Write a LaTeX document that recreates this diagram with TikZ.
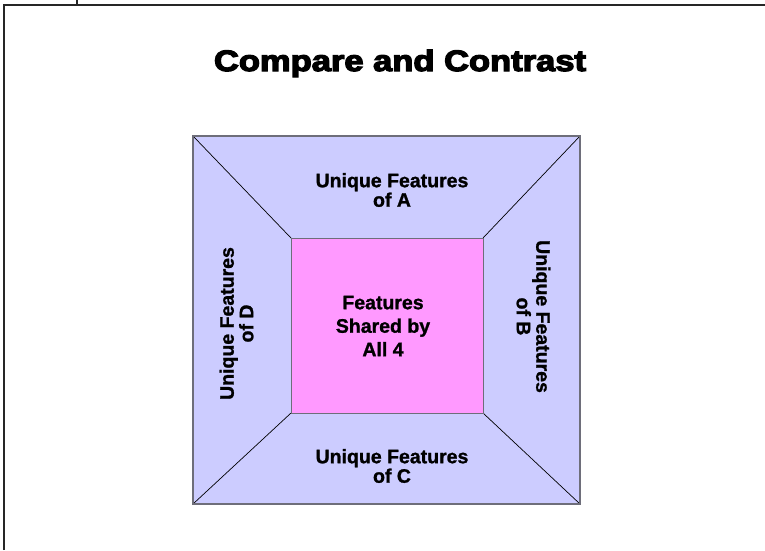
\documentclass[tikz,border=0pt]{standalone}
\usepackage{fontspec}
\setmainfont{Liberation Sans}
\newfontfamily\heavyfont[FakeBold=4]{Liberation Sans Bold}
\newfontfamily\labelfont[FakeBold=1.2]{Liberation Sans Bold}
\definecolor{lavender}{HTML}{CCCCFF}
\definecolor{orchid}{HTML}{FF99FF}
\definecolor{edgegray}{HTML}{6E6E7A}
\begin{document}
\begin{tikzpicture}[x=1pt,y=-1pt,
  frame/.style={draw=black!85, line width=1.6pt},
  panel/.style={draw=edgegray, line width=1.2pt, fill=lavender, inner sep=0pt, outer sep=0pt},
  core/.style={draw=edgegray, line width=1pt, fill=orchid, inner sep=0pt, outer sep=0pt},
  seam/.style={draw=black, line width=0.7pt},
  label/.style={font=\labelfont\fontsize{19.5}{19.5}\selectfont, align=center, inner sep=0pt},
  biglabel/.style={font=\labelfont\fontsize{19.5}{23.5}\selectfont, align=center, inner sep=0pt}]
\useasboundingbox (0,0) rectangle (765,550);

% page frame
\coordinate (fbl) at (4,550);
\coordinate (ftr) at (765,5);
\coordinate (tickt) at (77,0);
\coordinate (tickb) at (77,5);
\draw[frame] (fbl) |- (ftr);
\draw[frame] (tickt) -- (tickb);

% title
\node[anchor=base, inner sep=0pt] (title) at (400,71)
  {\scalebox{1.17}[1]{\heavyfont\fontsize{29.5}{29.5}\selectfont Compare and Contrast}};

% outer square with the four trapezoids and the shared core
\node[panel, minimum width=387pt, minimum height=368pt] (outer) at (386.5,320) {};
\node[core, minimum width=192pt, minimum height=175pt] (center) at (387,325.5) {};
\draw[seam] (outer.north west) -- (center.north west);
\draw[seam] (outer.north east) -- (center.north east);
\draw[seam] (outer.south west) -- (center.south west);
\draw[seam] (outer.south east) -- (center.south east);
\draw[draw=edgegray, line width=1pt] (center.north west) rectangle (center.south east);
\draw[draw=edgegray, line width=1.2pt] (outer.north west) rectangle (outer.south east);

% labels
\node[label] (la) at (392,190) {Unique Features\\of A};
\node[label] (lc) at (392,466) {Unique Features\\of C};
\node[label, rotate=90] (ld) at (236.5,323.5) {Unique Features\\of D};
\node[label, rotate=-90] (lb) at (533.5,316.5) {Unique Features\\of B};
\node[biglabel] (ls) at (383,326) {Features\\Shared by\\All 4};
\end{tikzpicture}
\end{document}
